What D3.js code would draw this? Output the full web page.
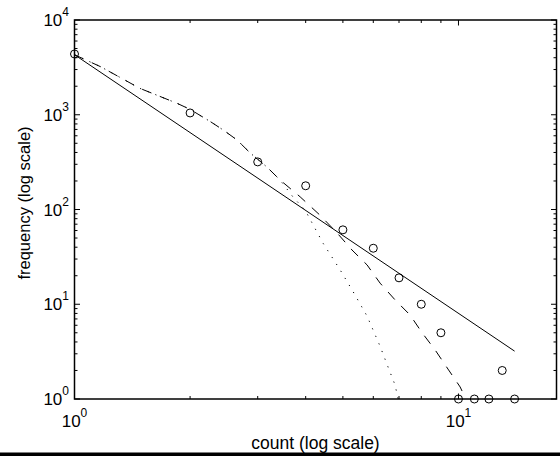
<!DOCTYPE html>
<html><head><meta charset="utf-8">
<script src="https://cdn.jsdelivr.net/npm/d3@7"></script>
<style>body{margin:0;background:#fff}svg{display:block}</style>
</head><body>
<script>
// observed frequencies
const countValues = [1, 2, 3, 4, 5, 6, 7, 8, 9, 10, 11, 12, 13, 14];
const freqValues  = [4380, 1045, 318, 178, 61, 39, 19, 10, 5, 1, 1, 1, 2, 1];
// power-law fit (solid)
const powerX = [1, 14];
const powerY = [4300, 3.2];
// shared upper part of the two model curves
const sharedX = [1, 1.17, 1.48, 1.85, 2, 2.26, 2.44, 2.65, 2.87, 3.17, 3.43];
const sharedY = [4300, 3210, 1900, 1320, 1140, 845, 690, 542, 394, 281, 205];
// dashed model tail
const dashedX = [3.87, 4.36, 4.83, 5.28, 5.78, 6.25, 6.84, 7.48, 8.04, 8.69, 9.39, 10.1, 10.45];
const dashedY = [136, 87, 56.5, 37.4, 26, 16.7, 11.1, 7.7, 5.0, 3.3, 2.07, 1.34, 1.0];
// dotted model tail
const dottedX = [3.71, 3.99, 4.44, 4.92, 5.32, 5.78, 6.25, 6.52, 6.84, 6.96];
const dottedY = [135, 98, 44, 23, 13.5, 7.5, 3.6, 2.3, 1.4, 1.0];
// axes
const xDomain = [1, 18];
const yDomain = [1, 10000];
const xTickExps = [0, 1];
const yTickExps = [0, 1, 2, 3, 4];
const xLabel = "count (log scale)";
const yLabel = "frequency (log scale)";

const W = 560, H = 456;
const L = 74.5, R = 556.5, T = 20, B = 399;
const svg = d3.select("body").append("svg").attr("width", W).attr("height", H)
  .style("font-family", "Liberation Sans, Arial, Helvetica, sans-serif");

const x = d3.scaleLog().domain(xDomain).range([L, R]);
const y = d3.scaleLog().domain(yDomain).range([B, T]);

svg.append("defs").append("clipPath").attr("id", "clip")
  .append("rect").attr("x", L).attr("y", T).attr("width", R - L).attr("height", B - T);

// ticks (inside, all four sides)
const xMinor = [], yMinor = [];
for (let d = 1; d <= 10; d *= 10) for (let k = 2; k <= 9; k++) { const v = k * d; if (v < xDomain[1]) xMinor.push(v); }
for (let d = 1; d < 10000; d *= 10) for (let k = 2; k <= 9; k++) yMinor.push(k * d);
const xMajor = xTickExps.map(e => Math.pow(10, e));
const yMajor = yTickExps.map(e => Math.pow(10, e));
const tg = svg.append("g").attr("stroke", "#000").attr("stroke-width", 1);
function xt(v, len) {
  tg.append("line").attr("x1", x(v)).attr("x2", x(v)).attr("y1", B).attr("y2", B - len);
  tg.append("line").attr("x1", x(v)).attr("x2", x(v)).attr("y1", T).attr("y2", T + len);
}
function yt(v, len) {
  tg.append("line").attr("y1", y(v)).attr("y2", y(v)).attr("x1", L).attr("x2", L + len);
  tg.append("line").attr("y1", y(v)).attr("y2", y(v)).attr("x1", R).attr("x2", R - len);
}
xMinor.forEach(v => xt(v, 3)); xMajor.forEach(v => xt(v, 5.5));
yMinor.forEach(v => yt(v, 3)); yMajor.forEach(v => yt(v, 5.5));

// box
svg.append("rect").attr("x", L).attr("y", T).attr("width", R - L).attr("height", B - T)
  .attr("fill", "none").attr("stroke", "#000").attr("stroke-width", 1.5);

// tick labels
xTickExps.forEach(e => {
  const t = svg.append("text").attr("x", x(Math.pow(10, e))).attr("y", 427)
    .attr("text-anchor", "middle").attr("font-size", 17);
  t.append("tspan").text("10");
  t.append("tspan").attr("dy", -10).attr("font-size", 12).text(e);
});
yTickExps.forEach(e => {
  const t = svg.append("text").attr("x", 69).attr("y", y(Math.pow(10, e)) + 6)
    .attr("text-anchor", "end").attr("font-size", 17);
  t.append("tspan").text("10");
  t.append("tspan").attr("dy", -10).attr("font-size", 12).text(e);
});

// axis labels
svg.append("text").attr("x", (L + R) / 2).attr("y", 449).attr("text-anchor", "middle")
  .attr("font-size", 17.5).text(xLabel);
svg.append("text").attr("transform", `translate(29.5,203) rotate(-90)`)
  .attr("text-anchor", "middle").attr("font-size", 16.5).text(yLabel);

// lines
const line = d3.line().x(d => x(d[0])).y(d => y(d[1]));
const plot = svg.append("g").attr("clip-path", "url(#clip)");
const sharedPts = d3.zip(sharedX, sharedY);
plot.append("path").datum(d3.zip(powerX, powerY)).attr("d", line)
  .attr("fill", "none").attr("stroke", "#000").attr("stroke-width", 1);
plot.append("path").datum(sharedPts.concat(d3.zip(dashedX, dashedY))).attr("d", line)
  .attr("fill", "none").attr("stroke", "#000").attr("stroke-width", 1).attr("stroke-dasharray", "10,9");
plot.append("path").datum(sharedPts.concat(d3.zip(dottedX, dottedY))).attr("d", line)
  .attr("fill", "none").attr("stroke", "#000").attr("stroke-width", 1).attr("stroke-dasharray", "1.2,7");

// observed circles
svg.append("g").selectAll("circle").data(d3.zip(countValues, freqValues)).join("circle")
  .attr("cx", d => x(d[0])).attr("cy", d => y(d[1])).attr("r", 4)
  .attr("fill", "none").attr("stroke", "#000").attr("stroke-width", 1);

// bottom black band
svg.append("rect").attr("x", 0).attr("y", 452.5).attr("width", W).attr("height", H - 452.5).attr("fill", "#000");
</script>
</body></html>
